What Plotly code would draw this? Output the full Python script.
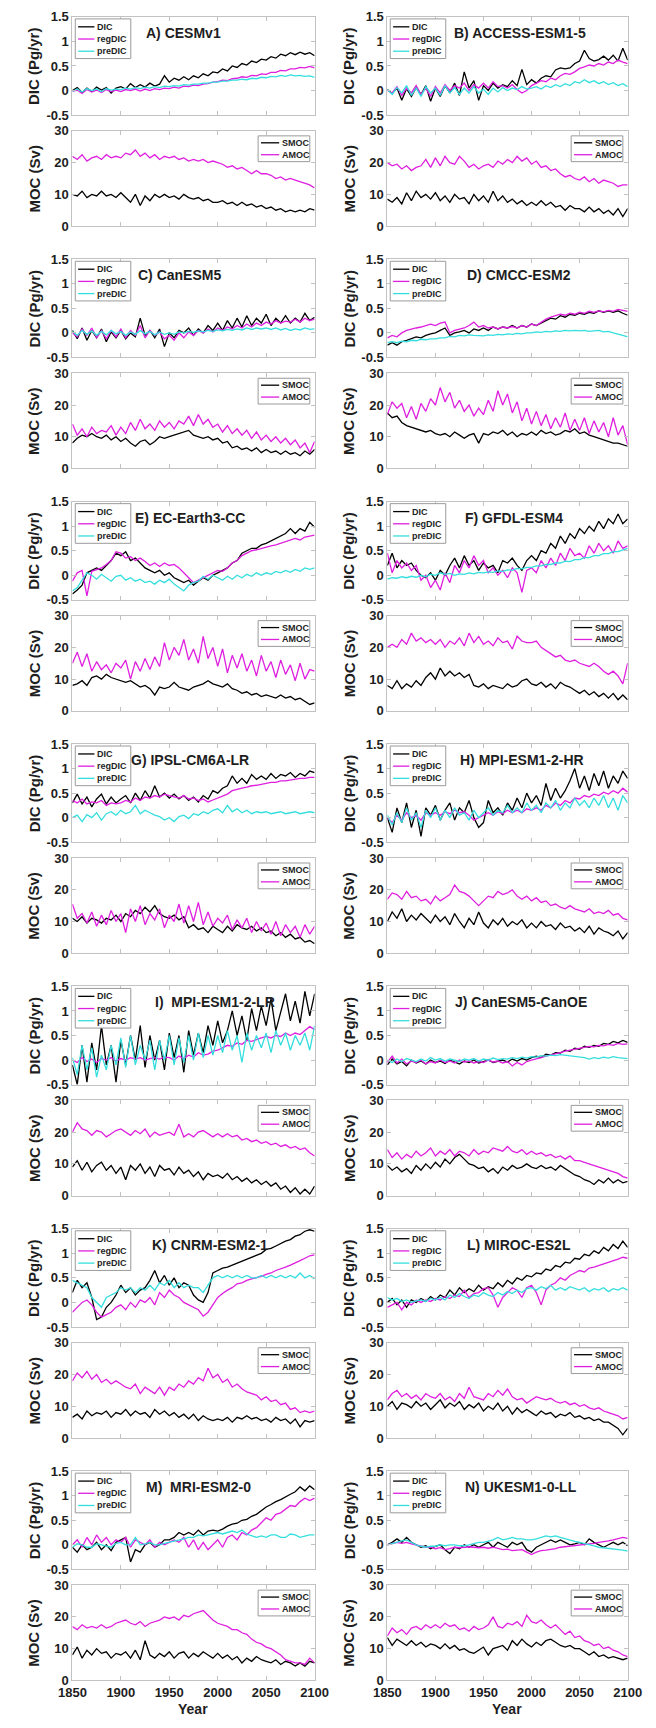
import plotly.graph_objects as go

# ---------------- data (5-year samples, 1850-2100) ----------------
YEARS = list(range(1850, 2101, 5))

A_DIC = [0.00, 0.06, -0.04, 0.05, -0.02, 0.07, 0.01, 0.06, -0.05, 0.05,
         0.08, 0.03, 0.14, 0.06, 0.12, 0.07, 0.15, 0.09, 0.13, 0.30,
         0.17, 0.25, 0.21, 0.28, 0.22, 0.30, 0.26, 0.34, 0.30, 0.38,
         0.36, 0.44, 0.40, 0.50, 0.47, 0.55, 0.52, 0.60, 0.57, 0.64,
         0.62, 0.69, 0.66, 0.74, 0.71, 0.77, 0.73, 0.78, 0.74, 0.77, 0.71]
A_regDIC = [-0.02, 0.01, -0.06, 0.02, -0.03, 0.01, -0.04, 0.02, -0.02, 0.01,
            -0.02, 0.02, 0.00, 0.03, -0.01, 0.03, 0.00, 0.04, 0.02, 0.05,
            0.04, 0.07, 0.05, 0.09, 0.08, 0.11, 0.10, 0.13, 0.14, 0.17,
            0.18, 0.21, 0.20, 0.24, 0.25, 0.28, 0.27, 0.31, 0.30, 0.34,
            0.33, 0.37, 0.37, 0.41, 0.40, 0.44, 0.44, 0.47, 0.46, 0.49, 0.46]
A_preDIC = [-0.02, 0.03, -0.03, 0.04, 0.00, 0.03, -0.02, 0.04, 0.01, 0.03,
            0.02, 0.05, 0.03, 0.06, 0.04, 0.07, 0.05, 0.08, 0.06, 0.09,
            0.08, 0.10, 0.09, 0.12, 0.11, 0.13, 0.13, 0.15, 0.15, 0.17,
            0.17, 0.19, 0.19, 0.21, 0.21, 0.23, 0.22, 0.25, 0.24, 0.27,
            0.26, 0.29, 0.28, 0.31, 0.29, 0.32, 0.30, 0.31, 0.29, 0.30, 0.27]
A_SMOC = [10.0, 9.5, 11.0, 9.0, 10.0, 9.5, 11.0, 9.5, 10.0, 9.0,
          10.5, 9.0, 7.5, 10.0, 6.5, 9.5, 8.0, 10.0, 9.0, 10.0,
          9.0, 9.5, 8.5, 10.0, 9.0, 8.5, 9.0, 8.0, 8.5, 7.5,
          7.5, 8.0, 7.0, 7.5, 6.5, 7.5, 6.5, 7.0, 6.0, 6.5,
          5.5, 6.0, 5.0, 5.5, 4.5, 5.0, 4.5, 5.0, 4.5, 5.5, 5.0]
A_AMOC = [22.0, 21.0, 22.5, 20.5, 21.5, 22.0, 21.0, 22.5, 21.5, 22.0,
          21.5, 23.0, 22.5, 24.0, 22.0, 23.0, 21.5, 22.5, 21.0, 22.0,
          21.5, 22.0, 21.0, 21.5, 20.5, 21.0, 20.5, 21.0, 20.0, 20.5,
          20.0, 19.5, 18.5, 19.0, 18.0, 18.5, 17.5, 16.5, 17.5, 16.5,
          16.5, 16.0, 15.0, 15.5, 14.5, 15.0, 14.5, 14.0, 13.5, 13.0, 12.0]

B_DIC = [0.02, -0.06, 0.05, -0.20, 0.04, -0.12, 0.06, -0.08, 0.10, -0.22,
         0.05, -0.12, 0.10, -0.05, 0.15, -0.10, 0.38, 0.05, 0.20, -0.20,
         0.10, 0.00, 0.15, 0.05, 0.12, 0.08, 0.20, 0.10, 0.43, 0.12,
         0.22, 0.15, 0.25, 0.30, 0.28, 0.42, 0.46, 0.44, 0.46, 0.55,
         0.60, 0.82, 0.65, 0.60, 0.63, 0.70, 0.62, 0.72, 0.60, 0.86, 0.62]
B_regDIC = [0.00, -0.05, 0.08, -0.10, 0.05, -0.05, 0.10, -0.08, 0.05, -0.12,
            0.08, -0.05, 0.12, 0.00, 0.10, 0.05, 0.15, 0.00, 0.12, 0.05,
            0.15, 0.05, 0.18, 0.08, 0.10, 0.05, 0.12, 0.02, -0.05, 0.00,
            0.10, 0.15, 0.20, 0.18, 0.25, 0.22, 0.30, 0.35, 0.33, 0.38,
            0.45, 0.48, 0.52, 0.50, 0.55, 0.52, 0.58, 0.55, 0.62, 0.58, 0.55]
B_preDIC = [0.02, -0.08, 0.06, -0.05, 0.10, -0.10, 0.05, -0.12, 0.08, -0.05,
            0.05, -0.10, 0.10, -0.05, 0.06, -0.08, 0.05, -0.05, 0.08, -0.05,
            0.03, -0.08, 0.05, -0.03, 0.06, 0.00, 0.05, 0.02, 0.08, 0.03,
            0.05, 0.08, 0.03, 0.10, 0.06, 0.12, 0.08, 0.14, 0.10, 0.18,
            0.15, 0.22, 0.16, 0.20, 0.14, 0.18, 0.12, 0.16, 0.10, 0.14, 0.08]
B_SMOC = [8.5, 7.5, 9.0, 7.0, 10.5, 8.0, 11.0, 9.0, 10.0, 8.5,
          10.5, 8.0, 9.5, 7.5, 10.0, 8.5, 9.0, 7.0, 10.0, 8.0,
          9.5, 7.5, 11.0, 8.0, 9.5, 7.5, 8.5, 7.0, 8.0, 6.5,
          7.5, 6.5, 8.0, 6.5, 7.5, 6.0, 6.5, 5.0, 6.5, 5.5,
          5.5, 4.5, 6.0, 4.5, 5.5, 4.0, 5.0, 3.5, 5.5, 3.0, 5.5]
B_AMOC = [20.0, 19.0, 19.5, 18.0, 19.0, 17.5, 18.5, 19.0, 21.0, 18.5,
          21.5, 19.0, 22.0, 20.0, 19.5, 22.0, 20.5, 18.5, 19.5, 18.0,
          19.0, 19.5, 18.5, 20.5, 19.5, 21.0, 20.0, 22.0, 20.5, 21.5,
          19.5, 20.5, 18.5, 19.0, 17.5, 18.0, 16.5, 15.5, 16.0, 15.0,
          14.5, 15.5, 14.0, 15.0, 13.5, 14.5, 14.0, 13.5, 12.5, 13.0, 13.0]

C_DIC = [0.05, -0.12, 0.10, -0.15, 0.05, -0.10, 0.08, -0.18, 0.02, -0.10,
         0.05, -0.12, 0.00, -0.08, 0.30, -0.05, 0.05, -0.10, 0.08, -0.28,
         0.00, -0.10, 0.05, 0.00, 0.10, -0.05, 0.08, 0.00, 0.15, 0.05,
         0.20, 0.05, 0.25, 0.10, 0.30, 0.12, 0.35, 0.15, 0.30, 0.20,
         0.38, 0.15, 0.30, 0.20, 0.35, 0.20, 0.30, 0.22, 0.40, 0.25, 0.32]
C_regDIC = [0.00, -0.08, 0.08, -0.05, 0.10, -0.10, 0.05, -0.12, 0.05, -0.08,
            0.08, -0.10, 0.05, -0.05, 0.15, -0.10, 0.05, -0.05, 0.02, -0.12,
            -0.05, -0.15, 0.00, -0.10, 0.02, -0.05, 0.05, 0.00, 0.08, 0.02,
            0.10, 0.05, 0.12, 0.08, 0.15, 0.10, 0.18, 0.12, 0.20, 0.15,
            0.22, 0.18, 0.25, 0.20, 0.24, 0.22, 0.28, 0.22, 0.30, 0.25, 0.28]
C_preDIC = [0.03, -0.05, 0.05, -0.03, 0.04, -0.05, 0.03, -0.04, 0.05, -0.02,
            0.03, -0.05, 0.02, -0.03, 0.05, -0.02, 0.03, -0.04, 0.02, -0.03,
            0.00, -0.03, 0.02, 0.00, 0.03, 0.01, 0.04, 0.02, 0.05, 0.03,
            0.06, 0.04, 0.07, 0.05, 0.08, 0.06, 0.10, 0.07, 0.10, 0.08,
            0.10, 0.07, 0.10, 0.06, 0.09, 0.05, 0.08, 0.06, 0.10, 0.07, 0.08]
C_SMOC = [8.0, 9.5, 10.5, 10.0, 11.0, 10.0, 9.5, 10.5, 9.0, 10.0,
          8.5, 9.5, 8.0, 7.0, 8.5, 9.0, 7.5, 8.5, 10.0, 9.5,
          10.0, 10.5, 11.0, 11.5, 12.0, 10.5, 10.0, 9.5, 10.0, 9.0,
          9.5, 8.0, 8.5, 6.5, 7.0, 6.0, 6.5, 5.5, 6.5, 5.0,
          6.0, 5.0, 5.5, 4.5, 5.5, 4.5, 5.0, 4.0, 5.5, 4.5, 6.0]
C_AMOC = [14.0, 10.5, 12.5, 10.0, 13.0, 11.0, 12.0, 11.5, 13.5, 10.5,
          13.0, 11.0, 14.5, 12.0, 15.5, 12.5, 14.0, 12.0, 15.0, 13.0,
          14.5, 12.5, 15.0, 14.0, 16.5, 13.5, 17.0, 14.0, 15.5, 13.0,
          14.0, 11.5, 13.5, 11.0, 12.5, 10.5, 12.0, 9.5, 11.5, 9.0,
          10.5, 8.5, 10.0, 8.0, 9.5, 7.5, 9.0, 6.5, 8.0, 5.0, 8.5]

D_DIC = [-0.25, -0.20, -0.25, -0.18, -0.15, -0.12, -0.08, -0.10, -0.05, -0.02,
         0.00, 0.05, 0.10, -0.05, 0.00, 0.02, 0.05, 0.00, 0.08, 0.05,
         0.10, 0.05, 0.12, 0.08, 0.12, 0.10, 0.15, 0.10, 0.15, 0.12,
         0.18, 0.15, 0.20, 0.25, 0.30, 0.28, 0.35, 0.32, 0.38, 0.36,
         0.40, 0.38, 0.42, 0.40, 0.45, 0.42, 0.45, 0.42, 0.45, 0.40, 0.36]
D_regDIC = [-0.10, -0.05, -0.08, 0.00, 0.05, 0.08, 0.10, 0.12, 0.15, 0.18,
            0.15, 0.20, 0.22, 0.00, 0.05, 0.08, 0.10, 0.15, 0.22, 0.12,
            0.15, 0.10, 0.12, 0.08, 0.12, 0.10, 0.13, 0.10, 0.15, 0.12,
            0.18, 0.15, 0.22, 0.28, 0.32, 0.35, 0.38, 0.36, 0.40, 0.38,
            0.42, 0.40, 0.44, 0.42, 0.45, 0.43, 0.46, 0.44, 0.48, 0.46, 0.44]
D_preDIC = [-0.20, -0.18, -0.20, -0.17, -0.18, -0.15, -0.16, -0.13, -0.14, -0.12,
            -0.12, -0.10, -0.10, -0.07, -0.08, -0.05, -0.06, -0.04, -0.05, -0.05,
            -0.06, -0.04, -0.05, -0.03, -0.04, -0.02, -0.03, -0.01, -0.02, 0.00,
            0.00, 0.02, 0.01, 0.03, 0.02, 0.04, 0.03, 0.05, 0.04, 0.05,
            0.04, 0.05, 0.03, 0.04, 0.05, 0.02, 0.03, 0.00, -0.02, -0.05, -0.08]
D_SMOC = [17.5, 16.0, 16.5, 14.5, 13.5, 13.0, 12.5, 12.0, 11.5, 12.0,
          11.0, 10.5, 11.0, 10.0, 11.5, 10.5, 9.5, 10.5, 11.0, 8.0,
          11.0, 10.5, 11.5, 11.0, 12.0, 10.5, 11.5, 10.0, 11.0, 10.5,
          11.5, 10.5, 12.0, 11.0, 11.5, 10.5, 11.0, 12.0, 11.5, 12.5,
          11.0, 11.5, 10.5, 10.0, 9.5, 9.0, 8.5, 8.0, 8.0, 7.5, 7.0]
D_AMOC = [17.0, 21.0, 19.0, 20.5, 16.0, 19.5, 15.5, 20.5, 18.0, 22.0,
          20.0, 25.5, 21.0, 24.0, 19.0, 21.5, 18.0, 20.0, 16.5, 19.0,
          17.0, 21.5, 18.0, 24.5, 20.0, 23.5, 17.5, 21.0, 15.0, 19.0,
          14.0, 18.0, 13.5, 17.0, 12.5, 16.0, 13.0, 17.5, 12.0, 15.5,
          12.0, 16.0, 11.0, 15.0, 11.5, 14.5, 10.0, 16.0, 10.5, 13.5, 7.5]

E_DIC = [-0.38, -0.30, -0.20, 0.05, 0.10, 0.15, 0.10, 0.20, 0.30, 0.45,
         0.40, 0.48, 0.30, 0.35, 0.25, 0.15, 0.10, 0.05, 0.10, 0.00,
         0.05, -0.05, -0.10, -0.15, -0.10, -0.20, -0.12, -0.05, -0.10, 0.00,
         0.05, 0.10, 0.15, 0.25, 0.30, 0.45, 0.50, 0.55, 0.55, 0.62,
         0.65, 0.70, 0.75, 0.80, 0.85, 0.95, 0.85, 0.95, 0.90, 1.08, 0.98]
E_regDIC = [-0.12, 0.05, 0.10, -0.42, 0.08, 0.12, 0.15, 0.22, 0.30, 0.48,
            0.45, 0.35, 0.38, 0.30, 0.35, 0.28, 0.20, 0.25, 0.18, 0.25,
            0.20, 0.22, 0.15, 0.05, -0.05, -0.15, -0.10, -0.05, 0.00, 0.05,
            0.10, 0.08, 0.15, 0.25, 0.30, 0.40, 0.45, 0.50, 0.52, 0.55,
            0.58, 0.60, 0.62, 0.65, 0.68, 0.72, 0.75, 0.72, 0.78, 0.80, 0.82]
E_preDIC = [-0.32, -0.25, -0.10, 0.05, 0.00, -0.08, 0.02, -0.05, -0.12, -0.02,
            0.00, -0.10, -0.05, -0.12, -0.08, -0.15, -0.12, -0.18, -0.10, -0.15,
            -0.08, -0.18, -0.25, -0.32, -0.20, -0.15, -0.12, -0.02, -0.08, 0.00,
            -0.05, -0.10, -0.02, -0.08, 0.00, -0.05, 0.02, -0.02, 0.05, 0.00,
            0.05, 0.02, 0.08, 0.05, 0.10, 0.06, 0.12, 0.08, 0.15, 0.12, 0.15]
E_SMOC = [8.0, 8.5, 9.5, 8.0, 10.5, 11.0, 10.0, 11.5, 10.5, 10.0,
          9.5, 9.0, 9.5, 8.5, 7.5, 8.0, 7.0, 5.0, 7.5, 7.0,
          7.5, 9.0, 7.5, 7.0, 6.5, 7.5, 8.0, 8.5, 9.5, 8.5,
          8.0, 7.5, 8.5, 7.0, 6.5, 5.5, 6.0, 5.0, 5.5, 4.5,
          5.0, 4.5, 4.0, 5.0, 4.0, 4.5, 3.5, 4.0, 3.0, 2.0, 2.5]
E_AMOC = [15.0, 18.5, 14.0, 18.0, 12.5, 15.5, 13.0, 14.5, 12.0, 15.0,
          13.5, 16.0, 10.0, 15.5, 12.5, 16.5, 13.0, 17.0, 14.0, 21.5,
          16.0, 20.0, 17.5, 22.5, 16.0, 19.5, 15.0, 23.5, 16.5, 20.0,
          14.0, 19.5, 12.0, 17.5, 13.5, 18.0, 12.5, 16.0, 11.0, 17.5,
          12.5, 15.5, 10.5, 16.0, 11.5, 14.5, 9.5, 15.0, 10.0, 13.0, 12.5]

F_DIC = [0.20, 0.45, 0.15, 0.30, 0.20, 0.25, 0.10, 0.00, -0.05, 0.05,
         -0.10, 0.10, 0.00, 0.20, 0.35, 0.15, 0.40, 0.20, 0.30, 0.10,
         0.25, 0.15, 0.20, 0.05, 0.30, 0.25, 0.35, 0.20, 0.10, 0.30,
         0.40, 0.30, 0.50, 0.45, 0.65, 0.55, 0.80, 0.65, 0.85, 0.75,
         0.95, 0.85, 1.00, 0.90, 1.10, 0.95, 1.15, 1.05, 1.25, 1.05, 1.15]
F_regDIC = [0.45, 0.05, 0.30, 0.15, 0.25, 0.10, 0.20, -0.10, 0.00, -0.25,
            -0.10, -0.30, 0.05, -0.15, 0.20, 0.05, 0.30, 0.15, 0.40, 0.20,
            0.30, 0.05, 0.15, 0.00, 0.10, -0.05, 0.15, 0.05, -0.35, 0.10,
            0.15, 0.05, 0.30, 0.15, 0.35, 0.20, 0.45, 0.30, 0.55, 0.40,
            0.45, 0.35, 0.60, 0.45, 0.65, 0.50, 0.60, 0.45, 0.70, 0.55, 0.60]
F_preDIC = [-0.08, -0.05, -0.06, -0.03, -0.05, -0.02, -0.04, 0.00, -0.03, 0.02,
            0.00, 0.05, 0.02, 0.04, 0.00, 0.03, 0.02, 0.05, 0.03, 0.06,
            0.05, 0.07, 0.06, 0.09, 0.08, 0.11, 0.10, 0.14, 0.13, 0.16,
            0.16, 0.19, 0.19, 0.22, 0.22, 0.25, 0.25, 0.29, 0.28, 0.32,
            0.32, 0.36, 0.36, 0.40, 0.40, 0.44, 0.44, 0.48, 0.48, 0.52, 0.55]
F_SMOC = [8.0, 7.0, 9.5, 7.0, 8.5, 7.5, 9.5, 8.0, 10.5, 12.0,
          10.0, 13.5, 11.0, 12.5, 11.0, 12.0, 10.5, 11.5, 8.0, 7.5,
          8.5, 7.0, 8.0, 7.5, 7.0, 8.5, 7.5, 8.0, 9.5, 10.0,
          8.5, 8.0, 9.0, 7.5, 8.5, 7.0, 9.0, 8.0, 7.5, 6.5,
          5.5, 6.5, 5.0, 6.0, 4.5, 5.5, 4.0, 5.5, 3.5, 5.0, 3.5]
F_AMOC = [20.0, 21.0, 20.0, 22.5, 21.0, 24.5, 22.0, 23.0, 21.5, 22.5,
          21.0, 22.5, 20.0, 22.0, 21.0, 23.0, 20.5, 24.5, 21.5, 23.5,
          21.0, 22.0, 20.5, 23.0, 21.5, 22.0, 19.5, 23.5, 22.0, 21.5,
          21.5, 22.0, 20.0, 19.0, 18.0, 17.0, 17.5, 16.0, 15.5, 16.0,
          15.0, 14.5, 14.0, 15.0, 14.0, 12.5, 11.5, 12.5, 11.0, 8.5, 15.0]

G_DIC = [0.30, 0.48, 0.28, 0.42, 0.22, 0.38, 0.48, 0.28, 0.42, 0.30,
         0.38, 0.45, 0.30, 0.50, 0.35, 0.55, 0.40, 0.65, 0.42, 0.50,
         0.40, 0.48, 0.38, 0.45, 0.35, 0.42, 0.32, 0.45, 0.38, 0.55,
         0.50, 0.60, 0.65, 0.85, 0.70, 0.80, 0.70, 0.88, 0.78, 0.85,
         0.78, 0.90, 0.80, 0.88, 0.85, 0.92, 0.82, 0.90, 0.85, 0.95, 0.92]
G_regDIC = [0.35, 0.30, 0.38, 0.28, 0.32, 0.30, 0.35, 0.25, 0.30, 0.28,
            0.30, 0.35, 0.32, 0.40, 0.35, 0.42, 0.40, 0.45, 0.42, 0.48,
            0.45, 0.42, 0.40, 0.45, 0.38, 0.40, 0.35, 0.38, 0.32, 0.36,
            0.40, 0.45, 0.48, 0.55, 0.58, 0.60, 0.62, 0.65, 0.66, 0.68,
            0.70, 0.72, 0.72, 0.75, 0.75, 0.77, 0.78, 0.80, 0.80, 0.82, 0.82]
G_preDIC = [0.00, 0.05, -0.08, 0.06, 0.00, 0.10, -0.05, 0.08, 0.12, 0.05,
            0.15, 0.08, 0.12, 0.25, 0.08, 0.15, 0.10, 0.05, 0.02, -0.05,
            0.00, -0.08, 0.02, 0.05, -0.02, 0.08, 0.05, 0.12, 0.08, 0.15,
            0.18, 0.10, 0.25, 0.12, 0.18, 0.10, 0.15, 0.08, 0.12, 0.10,
            0.12, 0.08, 0.10, 0.12, 0.08, 0.10, 0.12, 0.08, 0.10, 0.12, 0.10]
G_SMOC = [11.0, 10.0, 11.5, 9.5, 11.0, 10.5, 9.5, 11.0, 10.5, 12.0,
          10.0, 12.5, 11.5, 13.5, 12.5, 14.5, 13.0, 15.0, 12.5, 11.5,
          11.0, 12.0, 10.5, 11.5, 8.0, 9.0, 7.5, 8.0, 6.5, 8.5,
          7.5, 6.5, 8.5, 7.0, 9.0, 8.0, 7.5, 8.5, 7.0, 8.0,
          6.5, 7.0, 5.5, 6.5, 5.0, 6.0, 4.5, 5.0, 3.5, 4.0, 3.0]
G_AMOC = [15.5, 11.0, 12.5, 9.5, 13.0, 8.5, 12.0, 9.0, 13.5, 10.0,
          12.5, 6.5, 14.0, 10.0, 15.0, 9.0, 12.5, 10.5, 14.0, 8.0,
          12.0, 10.0, 15.5, 9.5, 15.0, 10.0, 16.0, 9.0, 13.0, 8.5,
          11.0, 9.5, 12.0, 7.5, 10.5, 8.0, 11.0, 6.5, 10.0, 7.0,
          9.5, 6.0, 10.0, 5.5, 9.0, 6.5, 8.5, 5.0, 9.0, 6.0, 8.5]

H_DIC = [0.00, -0.30, 0.20, -0.10, 0.30, -0.20, 0.15, -0.38, 0.20, 0.05,
         0.25, -0.05, 0.15, 0.30, -0.05, 0.20, 0.10, 0.35, 0.00, -0.20,
         -0.10, 0.35, 0.10, 0.20, 0.05, 0.30, 0.15, 0.40, 0.20, 0.50,
         0.30, 0.45, 0.25, 0.70, 0.35, 0.60, 0.40, 0.55, 0.75, 1.00,
         0.60, 0.85, 0.55, 0.90, 0.65, 0.95, 0.60, 0.85, 0.70, 0.95, 0.80]
H_regDIC = [0.00, -0.10, 0.05, -0.05, 0.10, 0.00, 0.05, -0.05, 0.10, 0.05,
            0.10, 0.05, 0.12, 0.08, 0.15, 0.10, 0.12, 0.05, -0.05, 0.00,
            0.05, 0.10, 0.05, 0.12, 0.08, 0.15, 0.10, 0.15, 0.10, 0.18,
            0.15, 0.20, 0.15, 0.25, 0.20, 0.30, 0.25, 0.35, 0.30, 0.40,
            0.38, 0.45, 0.42, 0.48, 0.45, 0.52, 0.48, 0.55, 0.50, 0.60, 0.52]
H_preDIC = [0.05, -0.15, 0.10, -0.10, 0.20, -0.05, 0.10, -0.20, 0.15, 0.00,
            0.20, -0.05, 0.15, 0.00, 0.20, 0.05, 0.10, -0.05, 0.15, 0.00,
            0.10, 0.20, 0.05, 0.15, 0.10, 0.25, 0.10, 0.20, 0.10, 0.30,
            0.15, 0.25, 0.10, 0.30, 0.20, 0.35, 0.15, 0.30, 0.20, 0.40,
            0.25, 0.35, 0.20, 0.40, 0.25, 0.45, 0.20, 0.40, 0.15, 0.45, 0.30]
H_SMOC = [10.0, 13.0, 11.0, 14.0, 10.0, 12.0, 10.5, 12.5, 11.0, 9.5,
          12.0, 10.0, 11.5, 9.0, 12.5, 10.0, 8.0, 11.0, 9.0, 13.0,
          9.5, 8.0, 10.5, 9.0, 11.0, 8.5, 10.0, 9.0, 10.5, 8.0,
          9.5, 8.0, 10.0, 8.5, 9.0, 7.5, 9.5, 8.0, 8.5, 7.0,
          8.0, 6.5, 8.5, 6.0, 8.0, 7.0, 6.5, 5.5, 7.0, 4.5, 6.5]
H_AMOC = [17.0, 19.0, 18.5, 17.0, 19.5, 17.5, 18.0, 16.5, 17.0, 15.5,
          18.0, 16.5, 17.5, 18.5, 21.5, 19.5, 19.0, 18.0, 16.5, 15.0,
          16.5, 18.0, 17.5, 19.5, 18.5, 19.0, 20.0, 18.0, 17.0, 18.0,
          16.5, 17.5, 16.0, 16.5, 15.0, 15.5, 14.5, 14.0, 15.0, 14.0,
          13.5, 13.0, 14.0, 12.5, 13.0, 12.5, 13.5, 12.0, 12.5, 11.0, 10.5]

I_DIC = [-0.10, -0.50, 0.30, -0.45, 0.35, -0.20, 0.70, -0.10, 0.30, -0.45,
         0.40, -0.10, 0.50, 0.00, 0.70, -0.15, 0.50, 0.00, 0.40, -0.20,
         0.55, 0.05, 0.50, -0.25, 0.60, 0.10, 0.55, 0.15, 0.70, 0.30,
         0.80, 0.35, 0.60, 1.00, 0.50, 0.90, 0.40, 1.05, 0.60, 1.10,
         0.70, 1.25, 0.60, 1.00, 1.35, 0.80, 1.20, 0.75, 1.40, 0.90, 1.35]
I_regDIC = [0.00, -0.05, 0.05, -0.03, 0.02, -0.05, 0.03, 0.00, 0.05, -0.02,
            0.03, 0.00, 0.05, 0.02, 0.05, 0.00, 0.03, 0.05, 0.02, 0.06,
            0.05, 0.00, 0.08, 0.03, 0.10, 0.06, 0.15, 0.10, 0.12, 0.18,
            0.20, 0.25, 0.30, 0.28, 0.35, 0.32, 0.40, 0.38, 0.42, 0.45,
            0.48, 0.45, 0.50, 0.48, 0.55, 0.50, 0.55, 0.52, 0.60, 0.68, 0.62]
I_preDIC = [0.05, -0.30, 0.30, -0.20, 0.25, -0.35, 0.10, -0.20, 0.30, -0.10,
            0.45, -0.15, 0.50, -0.10, 0.30, 0.00, 0.40, -0.20, 0.40, 0.00,
            0.50, -0.10, 0.45, -0.05, 0.50, 0.00, 0.55, 0.05, 0.50, 0.10,
            0.50, 0.15, 0.60, 0.20, 0.50, -0.05, 0.55, 0.20, 0.50, 0.25,
            0.55, 0.15, 0.60, 0.30, 0.55, 0.20, 0.50, 0.30, 0.55, 0.20, 0.70]
I_SMOC = [9.0, 11.0, 8.0, 10.5, 7.5, 9.5, 10.5, 8.0, 9.5, 7.0,
          9.0, 5.0, 9.5, 8.0, 10.0, 7.0, 9.0, 6.0, 9.5, 8.0,
          8.5, 6.5, 9.0, 7.0, 8.0, 6.0, 7.5, 5.0, 7.0, 6.0,
          6.5, 5.5, 7.0, 5.0, 6.0, 4.5, 5.5, 4.0, 5.0, 3.5,
          4.5, 3.0, 4.0, 2.0, 3.0, 1.0, 2.5, 0.5, 2.0, 0.5, 3.0]
I_AMOC = [20.0, 23.0, 21.0, 20.5, 19.0, 20.5, 20.0, 18.5, 19.5, 20.5,
          21.0, 20.0, 19.0, 20.5, 19.5, 21.0, 18.5, 20.0, 19.0, 19.5,
          20.0, 19.0, 22.5, 18.5, 19.5, 18.5, 20.0, 20.5, 19.5, 18.5,
          19.5, 18.5, 19.5, 18.5, 19.0, 17.5, 18.0, 17.0, 17.5, 16.5,
          17.0, 16.0, 16.5, 15.5, 16.0, 15.0, 15.5, 14.5, 15.0, 13.5, 12.5]

J_DIC = [-0.10, 0.02, -0.08, -0.03, -0.12, 0.00, -0.06, -0.02, -0.08, 0.00,
         -0.05, -0.02, -0.07, 0.00, -0.04, -0.08, -0.02, -0.05, 0.00, -0.06,
         -0.03, 0.00, -0.05, -0.02, 0.00, -0.04, 0.02, -0.02, 0.03, 0.00,
         0.05, 0.08, 0.05, 0.12, 0.10, 0.15, 0.14, 0.20, 0.18, 0.24,
         0.22, 0.28, 0.26, 0.30, 0.28, 0.34, 0.32, 0.38, 0.35, 0.40, 0.36]
J_regDIC = [-0.05, 0.08, -0.06, 0.02, -0.08, -0.02, -0.05, 0.00, -0.08, -0.03,
            -0.06, 0.00, -0.05, -0.02, -0.06, 0.00, -0.04, -0.02, -0.06, -0.03,
            -0.05, 0.00, -0.04, -0.02, -0.06, -0.03, -0.12, -0.05, -0.10, -0.03,
            0.00, 0.02, 0.05, 0.08, 0.10, 0.12, 0.15, 0.18, 0.20, 0.22,
            0.24, 0.25, 0.28, 0.27, 0.30, 0.29, 0.32, 0.30, 0.34, 0.32, 0.33]
J_preDIC = [0.00, -0.05, 0.02, -0.03, 0.03, 0.00, -0.03, 0.02, -0.02, 0.05,
            0.00, 0.03, -0.02, 0.02, 0.00, -0.03, 0.02, 0.00, 0.03, -0.02,
            0.02, 0.00, 0.04, 0.01, 0.03, 0.02, 0.05, 0.03, 0.06, 0.04,
            0.07, 0.06, 0.09, 0.08, 0.10, 0.09, 0.11, 0.10, 0.09, 0.08,
            0.06, 0.05, 0.02, 0.05, 0.03, 0.06, 0.04, 0.07, 0.05, 0.04, 0.03]
J_SMOC = [9.5, 8.0, 9.0, 7.5, 8.5, 7.0, 9.5, 8.0, 10.0, 8.5,
          10.5, 9.0, 11.5, 10.0, 12.0, 13.0, 11.5, 10.0, 9.5, 8.5,
          9.0, 7.5, 8.5, 7.0, 9.0, 8.0, 9.5, 8.5, 9.0, 10.0,
          9.0, 8.5, 9.5, 8.5, 9.0, 8.0, 9.5, 8.5, 7.5, 6.5,
          6.0, 5.0, 4.5, 3.5, 5.0, 4.0, 5.5, 4.0, 5.0, 4.0, 4.5]
J_AMOC = [14.5, 12.0, 13.5, 11.5, 13.0, 12.0, 14.0, 12.5, 13.5, 15.0,
          12.5, 14.0, 13.0, 14.5, 12.5, 14.0, 13.5, 12.5, 14.5, 13.0,
          14.0, 13.5, 15.0, 14.5, 14.0, 15.5, 14.0, 13.5, 14.5, 13.0,
          14.0, 13.0, 13.5, 12.5, 13.0, 12.0, 12.5, 11.5, 12.5, 11.0,
          11.0, 10.5, 10.0, 9.5, 9.0, 8.5, 8.0, 7.5, 7.0, 6.0, 5.5]

K_DIC = [0.20, 0.45, 0.30, 0.40, 0.10, -0.35, -0.30, -0.10, 0.00, 0.15,
         0.35, 0.20, 0.30, 0.15, 0.25, 0.30, 0.45, 0.65, 0.40, 0.55,
         0.35, 0.50, 0.30, 0.40, 0.35, 0.15, 0.05, 0.00, 0.20, 0.60,
         0.65, 0.70, 0.72, 0.76, 0.80, 0.84, 0.88, 0.92, 0.95, 1.00,
         1.08, 1.10, 1.15, 1.20, 1.25, 1.28, 1.35, 1.38, 1.45, 1.48, 1.45]
K_regDIC = [-0.20, -0.10, 0.00, 0.05, -0.05, -0.20, -0.30, -0.25, -0.20, -0.10,
            -0.05, -0.15, 0.00, -0.10, 0.05, 0.00, 0.10, -0.05, 0.20, 0.10,
            0.25, 0.15, 0.10, 0.00, -0.05, -0.10, -0.15, -0.28, -0.20, -0.05,
            0.10, 0.18, 0.25, 0.30, 0.38, 0.40, 0.45, 0.48, 0.50, 0.53,
            0.57, 0.60, 0.65, 0.68, 0.72, 0.76, 0.80, 0.85, 0.90, 0.95, 0.97]
K_preDIC = [0.45, 0.40, 0.35, 0.30, 0.10, 0.00, -0.10, 0.10, 0.15, 0.20,
            0.30, 0.25, 0.30, 0.20, 0.30, 0.25, 0.35, 0.25, 0.40, 0.35,
            0.45, 0.30, 0.40, 0.30, 0.35, 0.30, 0.30, 0.20, 0.35, 0.50,
            0.55, 0.50, 0.55, 0.50, 0.55, 0.50, 0.55, 0.50, 0.50, 0.55,
            0.50, 0.55, 0.50, 0.55, 0.50, 0.55, 0.50, 0.60, 0.50, 0.55, 0.48]
K_SMOC = [6.5, 7.5, 6.0, 8.5, 7.0, 8.0, 7.5, 8.5, 6.5, 8.0,
          7.5, 9.0, 7.0, 8.5, 7.5, 8.0, 6.5, 9.0, 7.5, 8.5,
          7.0, 8.0, 6.5, 7.5, 6.0, 7.5, 5.5, 7.0, 6.0, 5.5,
          6.0, 5.5, 6.5, 5.0, 6.5, 6.0, 7.0, 6.0, 6.5, 5.5,
          6.0, 5.0, 6.5, 5.5, 6.0, 4.5, 6.0, 3.5, 5.5, 5.0, 5.5]
K_AMOC = [18.0, 20.5, 19.0, 21.0, 18.5, 20.0, 17.5, 18.5, 17.0, 18.0,
          17.0, 16.0, 15.5, 17.0, 14.0, 16.0, 15.0, 14.0, 16.0, 13.5,
          16.0, 15.0, 17.0, 16.0, 18.0, 17.0, 19.0, 18.0, 22.0, 19.0,
          20.0, 17.5, 18.5, 16.0, 17.0, 15.5, 14.5, 14.0, 13.5, 12.0,
          13.0, 11.5, 12.0, 10.5, 11.0, 9.0, 9.5, 8.0, 8.5, 8.0, 8.5]

L_DIC = [0.00, 0.08, -0.05, 0.05, -0.10, 0.05, 0.00, 0.08, 0.02, 0.12,
         0.05, 0.15, 0.10, 0.25, 0.15, 0.30, 0.20, 0.28, 0.22, 0.35,
         0.25, 0.32, 0.28, 0.40, 0.32, 0.45, 0.38, 0.50, 0.45, 0.55,
         0.52, 0.60, 0.58, 0.68, 0.65, 0.75, 0.72, 0.82, 0.80, 0.90,
         0.88, 0.98, 0.95, 1.05, 1.00, 1.12, 1.05, 1.18, 1.10, 1.25, 1.12]
L_regDIC = [-0.10, -0.05, 0.00, -0.15, 0.00, -0.05, 0.05, 0.00, 0.05, 0.02,
            0.08, 0.05, 0.12, 0.08, 0.15, 0.12, 0.25, 0.10, 0.18, 0.20,
            0.28, 0.30, 0.15, -0.10, 0.10, 0.20, 0.30, 0.25, 0.10, 0.30,
            0.35, 0.20, -0.05, 0.25, 0.35, 0.40, 0.50, 0.45, 0.55, 0.60,
            0.65, 0.62, 0.70, 0.72, 0.75, 0.78, 0.82, 0.85, 0.88, 0.92, 0.90]
L_preDIC = [0.10, 0.05, 0.08, 0.02, 0.05, 0.00, 0.03, 0.05, 0.02, 0.08,
            0.05, 0.10, 0.05, 0.15, 0.10, 0.18, 0.12, 0.08, 0.15, 0.12,
            0.20, 0.15, 0.12, 0.20, 0.15, 0.22, 0.18, 0.25, 0.20, 0.28,
            0.30, 0.25, 0.32, 0.28, 0.35, 0.25, 0.30, 0.25, 0.32, 0.28,
            0.25, 0.30, 0.22, 0.28, 0.25, 0.30, 0.22, 0.28, 0.25, 0.30, 0.25]
L_SMOC = [10.0, 11.5, 9.0, 11.0, 10.5, 9.5, 11.5, 10.0, 11.0, 9.0,
          10.5, 12.0, 9.5, 11.0, 10.0, 11.5, 9.0, 10.5, 9.5, 11.0,
          8.5, 10.0, 9.0, 11.0, 8.5, 10.0, 7.5, 9.5, 8.0, 9.0,
          8.0, 7.0, 8.5, 7.5, 8.0, 6.5, 7.5, 7.0, 8.0, 6.5,
          7.0, 6.0, 6.5, 5.5, 6.0, 5.0, 5.0, 4.0, 3.0, 1.0, 3.0]
L_AMOC = [12.0, 14.0, 15.0, 13.0, 14.0, 12.5, 13.5, 12.0, 14.0, 13.0,
          12.5, 14.0, 12.0, 13.0, 11.5, 14.0, 12.5, 16.0, 13.0, 12.5,
          12.0, 14.0, 13.0, 15.0, 13.5, 15.5, 13.0, 12.0, 12.5, 11.0,
          12.0, 13.0, 12.5, 12.0, 12.5, 11.5, 11.0, 11.5, 10.5, 11.0,
          10.0, 10.5, 9.5, 9.0, 9.5, 8.5, 8.0, 7.5, 7.0, 6.0, 6.5]

M_DIC = [-0.05, -0.15, 0.00, -0.10, -0.05, 0.05, -0.10, 0.00, -0.12, 0.05,
         0.10, 0.15, -0.35, -0.10, -0.15, 0.00, 0.05, -0.05, 0.00, 0.10,
         0.10, 0.15, 0.25, 0.20, 0.25, 0.20, 0.30, 0.20, 0.28, 0.30,
         0.28, 0.32, 0.38, 0.42, 0.44, 0.50, 0.52, 0.58, 0.62, 0.70,
         0.77, 0.82, 0.88, 0.92, 0.98, 1.03, 1.08, 1.18, 1.10, 1.20, 1.12]
M_regDIC = [0.00, 0.10, -0.05, 0.15, 0.00, 0.20, 0.05, 0.15, 0.00, 0.10,
            0.05, 0.15, -0.05, 0.10, 0.05, 0.00, 0.10, -0.05, 0.05, 0.00,
            0.05, 0.10, 0.05, 0.15, -0.05, 0.10, -0.10, 0.05, -0.10, 0.00,
            0.10, -0.05, 0.15, 0.20, 0.10, 0.25, 0.20, 0.30, 0.35, 0.45,
            0.55, 0.50, 0.62, 0.65, 0.72, 0.80, 0.78, 0.88, 0.95, 0.90, 0.95]
M_preDIC = [-0.05, 0.02, 0.00, -0.05, -0.05, 0.02, 0.00, -0.03, -0.05, 0.03,
            0.05, 0.00, 0.00, 0.15, 0.00, 0.02, 0.05, 0.00, 0.00, 0.03,
            0.05, 0.08, 0.10, 0.12, 0.15, 0.15, 0.20, 0.18, 0.20, 0.22,
            0.25, 0.22, 0.25, 0.28, 0.25, 0.30, 0.22, 0.18, 0.15, 0.18,
            0.15, 0.20, 0.20, 0.15, 0.15, 0.22, 0.20, 0.15, 0.18, 0.20, 0.20]
M_SMOC = [8.0, 10.5, 7.0, 9.5, 8.0, 10.0, 8.5, 9.0, 7.0, 8.5,
          8.0, 9.0, 7.0, 9.5, 6.5, 12.5, 8.0, 7.0, 8.5, 7.5,
          9.0, 7.0, 8.5, 9.0, 7.0, 8.5, 7.5, 9.0, 8.0, 7.0,
          8.5, 7.0, 8.0, 6.5, 7.5, 5.5, 7.0, 6.0, 7.5, 6.5,
          6.0, 5.5, 6.5, 5.0, 6.0, 5.5, 4.5, 5.5, 4.5, 6.0, 5.5]
M_AMOC = [17.0, 16.0, 17.5, 16.5, 17.0, 16.5, 17.5, 16.5, 17.0, 18.0,
          18.5, 19.0, 18.0, 17.5, 18.5, 17.0, 18.0, 18.5, 19.0, 20.0,
          19.5, 20.0, 19.0, 20.5, 20.0, 21.0, 21.5, 22.0, 20.5, 19.0,
          18.0, 17.5, 17.0, 16.0, 16.0, 15.0, 14.5, 13.0, 12.0, 11.5,
          10.5, 10.0, 9.0, 8.0, 6.5, 6.0, 5.5, 5.5, 5.0, 7.0, 5.5]

N_DIC = [0.00, 0.05, 0.12, 0.05, 0.15, 0.05, 0.00, -0.05, -0.02, -0.08,
         -0.03, 0.00, -0.10, -0.18, -0.05, -0.08, 0.00, -0.05, 0.00, -0.05,
         0.00, 0.05, -0.05, 0.05, 0.00, -0.05, 0.05, 0.00, 0.05, -0.10,
         -0.15, -0.05, 0.00, 0.05, 0.10, 0.05, 0.10, 0.05, 0.00, 0.02,
         0.05, 0.00, 0.12, 0.05, 0.00, -0.05, 0.00, 0.05, 0.00, 0.05, -0.02]
N_regDIC = [0.00, 0.02, 0.05, 0.03, 0.05, 0.02, 0.00, -0.02, -0.05, -0.05,
            -0.08, -0.06, -0.10, -0.08, -0.05, -0.06, -0.05, -0.04, -0.05, -0.06,
            -0.05, -0.07, -0.05, -0.08, -0.10, -0.09, -0.12, -0.11, -0.10, -0.15,
            -0.20, -0.15, -0.12, -0.11, -0.10, -0.08, -0.05, -0.04, -0.03, -0.02,
            0.00, 0.01, 0.02, 0.03, 0.05, 0.06, 0.08, 0.10, 0.12, 0.15, 0.13]
N_preDIC = [0.00, 0.03, 0.05, 0.08, 0.10, 0.05, 0.00, -0.03, -0.05, -0.03,
            -0.03, 0.00, -0.02, 0.00, 0.00, -0.02, -0.02, 0.00, 0.02, 0.05,
            0.05, 0.08, 0.10, 0.15, 0.10, 0.12, 0.15, 0.12, 0.12, 0.10,
            0.10, 0.12, 0.15, 0.18, 0.16, 0.18, 0.15, 0.12, 0.10, 0.07,
            0.05, 0.03, 0.00, -0.02, -0.05, -0.06, -0.08, -0.09, -0.10, -0.11, -0.13]
N_SMOC = [13.5, 11.0, 13.0, 12.0, 11.0, 12.5, 11.0, 12.0, 10.5, 11.5,
          11.0, 10.0, 11.5, 10.0, 11.0, 9.5, 10.0, 9.0, 8.5, 9.5,
          10.5, 8.0, 10.0, 10.5, 11.0, 9.5, 12.5, 11.0, 13.0, 11.5,
          10.5, 12.0, 11.0, 12.5, 13.0, 12.0, 11.0, 10.5, 11.0, 10.0,
          10.0, 9.0, 8.0, 9.0, 7.5, 8.0, 7.0, 7.5, 7.0, 6.5, 7.0]
N_AMOC = [14.0, 16.5, 15.0, 16.0, 14.5, 16.5, 17.0, 16.0, 17.5, 16.5,
          17.5, 16.5, 18.0, 17.0, 17.5, 16.0, 16.5, 15.5, 17.0, 16.0,
          16.5, 17.5, 20.0, 17.0, 16.5, 18.0, 17.5, 18.5, 17.0, 20.5,
          18.5, 18.0, 19.0, 17.5, 16.5, 17.5, 16.0, 14.5, 15.5, 13.5,
          14.0, 12.5, 12.0, 11.0, 11.5, 10.0, 10.5, 9.5, 9.0, 8.0, 7.5]

PANEL_TITLES = ["A) CESMv1", "B) ACCESS-ESM1-5", "C) CanESM5", "D) CMCC-ESM2",
                "E) EC-Earth3-CC", "F) GFDL-ESM4", "G) IPSL-CM6A-LR", "H) MPI-ESM1-2-HR",
                "I)  MPI-ESM1-2-LR", "J) CanESM5-CanOE", "K) CNRM-ESM2-1", "L) MIROC-ES2L",
                "M)  MRI-ESM2-0", "N) UKESM1-0-LL"]
PANEL_DATA = [
    (A_DIC, A_regDIC, A_preDIC, A_SMOC, A_AMOC),
    (B_DIC, B_regDIC, B_preDIC, B_SMOC, B_AMOC),
    (C_DIC, C_regDIC, C_preDIC, C_SMOC, C_AMOC),
    (D_DIC, D_regDIC, D_preDIC, D_SMOC, D_AMOC),
    (E_DIC, E_regDIC, E_preDIC, E_SMOC, E_AMOC),
    (F_DIC, F_regDIC, F_preDIC, F_SMOC, F_AMOC),
    (G_DIC, G_regDIC, G_preDIC, G_SMOC, G_AMOC),
    (H_DIC, H_regDIC, H_preDIC, H_SMOC, H_AMOC),
    (I_DIC, I_regDIC, I_preDIC, I_SMOC, I_AMOC),
    (J_DIC, J_regDIC, J_preDIC, J_SMOC, J_AMOC),
    (K_DIC, K_regDIC, K_preDIC, K_SMOC, K_AMOC),
    (L_DIC, L_regDIC, L_preDIC, L_SMOC, L_AMOC),
    (M_DIC, M_regDIC, M_preDIC, M_SMOC, M_AMOC),
    (N_DIC, N_regDIC, N_preDIC, N_SMOC, N_AMOC),
]
DIC_NAMES = ["DIC", "regDIC", "preDIC"]
MOC_NAMES = ["SMOC", "AMOC"]
X_TICKS = [1850, 1900, 1950, 2000, 2050, 2100]
DIC_TICKS = [-0.5, 0, 0.5, 1, 1.5]
DIC_TICKTEXT = ["-0.5", "0", "0.5", "1", "1.5"]
MOC_TICKS = [0, 10, 20, 30]

# ---------------- styling / layout geometry ----------------
W, H = 656, 1728
FONT = "Liberation Sans, Arial, Helvetica, sans-serif"
INK = "#1e1e1e"
AXC = "#c2c2c2"
COLORS_DIC = ["#000000", "#df1fdf", "#35dede"]
COLORS_MOC = ["#000000", "#df1fdf"]
LW = 1.3
COLS = [(61, 314), (390, 641)]
ROW0, STEP = 10, 244.5
DIC_SPAN = (0, 99)
MOC_SPAN = (115, 211)
TITLE_CX = [177, 529, 173, 528, 184, 522, 184, 531, 210, 530, 205, 528, 193, 530]
LEG_FS = 9


def fx(px):
    return px / W


def fy(py):
    return 1 - py / H


fig = go.Figure()
layout = dict(width=W, height=H, margin=dict(l=0, r=0, t=0, b=0),
              paper_bgcolor="white", plot_bgcolor="white", showlegend=False)
shapes, annos = [], []


def txt(x, y, s, size, xanchor="center", angle=0):
    annos.append(dict(x=fx(x), y=fy(y), xref="paper", yref="paper", text=s,
                      showarrow=False, xanchor=xanchor, yanchor="middle",
                      textangle=angle, borderpad=0,
                      font=dict(family=FONT, size=size, color=INK, weight="bold")))


for p, (title, series) in enumerate(zip(PANEL_TITLES, PANEL_DATA)):
    r, c = divmod(p, 2)
    top = ROW0 + r * STEP
    xl, xr = COLS[c]
    bottom_row = (r == 6)
    for k, (span, rng, tv, tt) in enumerate([
            (DIC_SPAN, [-0.5, 1.5], DIC_TICKS, DIC_TICKTEXT),
            (MOC_SPAN, [0, 30], MOC_TICKS, [str(v) for v in MOC_TICKS])]):
        n = 2 * p + 1 + k
        sfx = "" if n == 1 else str(n)
        common = dict(ticks="inside", ticklen=4, tickcolor=AXC, tickwidth=1,
                      showline=True, linecolor=AXC, linewidth=1, mirror="ticks",
                      showgrid=False, zeroline=False, fixedrange=True,
                      tickfont=dict(family=FONT, size=13, color=INK, weight="bold"))
        layout["xaxis" + sfx] = dict(domain=[fx(xl), fx(xr)], anchor="y" + sfx,
                                     range=[1850, 2100], tickvals=X_TICKS,
                                     showticklabels=(bottom_row and k == 1), **common)
        layout["yaxis" + sfx] = dict(domain=[fy(top + span[1]), fy(top + span[0])],
                                     anchor="x" + sfx, range=rng, tickvals=tv,
                                     ticktext=tt, **common)
        if k == 0:
            for name, vals, col in zip(DIC_NAMES, series[:3], COLORS_DIC):
                fig.add_trace(go.Scatter(x=YEARS, y=vals, mode="lines", name=name,
                                         line=dict(color=col, width=LW),
                                         xaxis="x" + sfx, yaxis="y" + sfx,
                                         hoverinfo="skip"))
        else:
            for name, vals, col in zip(MOC_NAMES, series[3:], COLORS_MOC):
                fig.add_trace(go.Scatter(x=YEARS, y=vals, mode="lines", name=name,
                                         line=dict(color=col, width=LW),
                                         xaxis="x" + sfx, yaxis="y" + sfx,
                                         hoverinfo="skip"))

    # y-axis titles
    txt(xl - 40, top + (DIC_SPAN[0] + DIC_SPAN[1]) / 2, "DIC (Pg/yr)", 15, angle=-90)
    txt(xl - 40, top + (MOC_SPAN[0] + MOC_SPAN[1]) / 2, "MOC (Sv)", 15, angle=-90)
    # panel title
    txt(TITLE_CX[p], top + 16, title, 14)

    # DIC legend box
    bx, by, bw, bh = xl + 3, top + 2, 58, 40
    shapes.append(dict(type="rect", xref="paper", yref="paper",
                       x0=fx(bx), x1=fx(bx + bw), y0=fy(by + bh), y1=fy(by),
                       line=dict(color="#9a9a9a", width=1), fillcolor="white", layer="above"))
    for i, (name, col) in enumerate(zip(DIC_NAMES, COLORS_DIC)):
        yy = by + 8 + i * 12.3
        shapes.append(dict(type="line", xref="paper", yref="paper",
                           x0=fx(bx + 3), x1=fx(bx + 20), y0=fy(yy), y1=fy(yy),
                           line=dict(color=col, width=LW), layer="above"))
        txt(bx + 22, yy, name, LEG_FS, xanchor="left")

    # MOC legend box
    mtop = top + MOC_SPAN[0]
    bw, bh = 54, 26
    bx, by = xr - 5 - bw, mtop + 5
    shapes.append(dict(type="rect", xref="paper", yref="paper",
                       x0=fx(bx), x1=fx(bx + bw), y0=fy(by + bh), y1=fy(by),
                       line=dict(color="#9a9a9a", width=1), fillcolor="white", layer="above"))
    for i, (name, col) in enumerate(zip(MOC_NAMES, COLORS_MOC)):
        yy = by + 7 + i * 12
        shapes.append(dict(type="line", xref="paper", yref="paper",
                           x0=fx(bx + 3), x1=fx(bx + 22), y0=fy(yy), y1=fy(yy),
                           line=dict(color=col, width=LW), layer="above"))
        txt(bx + 24, yy, name, LEG_FS, xanchor="left")

# x-axis title "Year" under both bottom panels
for xl, xr in COLS:
    txt((xl + xr) / 2, 1717, "Year", 14)

layout["shapes"] = shapes
layout["annotations"] = annos
fig.update_layout(**layout)
fig.write_html("out.html")
